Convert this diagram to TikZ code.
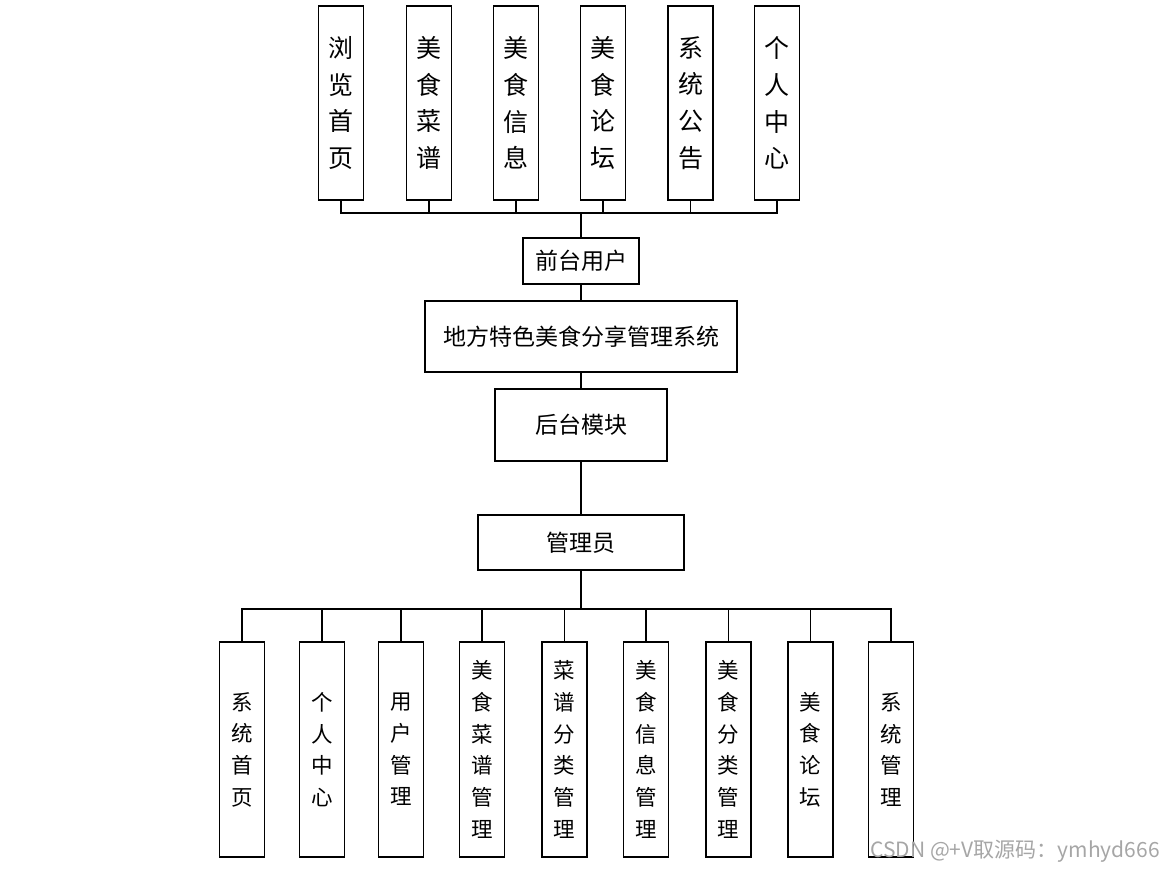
\documentclass[tikz,border=0pt]{standalone}
\usepackage{fontspec}
\setmainfont{Noto Sans CJK SC}
\usetikzlibrary{positioning,calc}
\tikzset{
  base/.style={font=\fontsize{23}{27}\selectfont, align=center, inner sep=0pt, text=black},
  box/.style={base, rectangle, draw=black, fill=white, line width=1.6pt},
  hbox/.style={box, minimum height=46pt},
  topbox/.style={box, font=\fontsize{25}{36.7}\selectfont, text width=30pt, minimum width=45pt, minimum height=194pt},
  botbox/.style={box, font=\fontsize{21.5}{31.7}\selectfont, text width=28pt, minimum width=45pt, minimum height=215pt},
  link/.style={line width=1.6pt, draw=black},
  wmark/.style={font=\fontsize{21}{24}\selectfont, text=black!35, inner sep=0pt},
}
\begin{document}
\begin{tikzpicture}[x=1pt,y=-1pt]
  \useasboundingbox (0,0) rectangle (1173,871);
  % centre column
  \node[hbox,minimum width=116pt] (front) at (581,261) {前台用户};
  \node[hbox,minimum width=312pt,minimum height=71pt] (sys) at (581,336.5) {地方特色美食分享管理系统};
  \node[hbox,minimum width=172pt,minimum height=72pt] (back) at (581,425) {后台模块};
  \node[hbox,minimum width=206pt,minimum height=55pt] (admin) at (581,542.5) {管理员};
  \draw[link] (front) -- (sys);
  \draw[link] (sys) -- (back);
  \draw[link] (back) -- (admin);
  % front-end modules
  \coordinate (ubus) at (581,213);
  \draw[link] (ubus) -- (front);
  \foreach \i/\x/\t in {1/341/{浏\\览\\首\\页},2/429/{美\\食\\菜\\谱},3/516/{美\\食\\信\\息},
                        4/603/{美\\食\\论\\坛},5/690.5/{系\\统\\公\\告},6/777/{个\\人\\中\\心}}{
    \node[topbox] (u\i) at (\x,103) {\t};
    \draw[link] (u\i.south) |- (ubus);
  }
  % back-end modules
  \coordinate (dbus) at (581,609);
  \draw[link] (admin) -- (dbus);
  \foreach \i/\x/\t in {1/242/{系\\统\\首\\页},2/322/{个\\人\\中\\心},3/401/{用\\户\\管\\理},
                        4/482/{美\\食\\菜\\谱\\管\\理},5/564.5/{菜\\谱\\分\\类\\管\\理},6/646/{美\\食\\信\\息\\管\\理},
                        7/728.5/{美\\食\\分\\类\\管\\理},8/810.5/{美\\食\\论\\坛},9/891/{系\\统\\管\\理}}{
    \node[botbox] (d\i) at (\x,749.5) {\t};
    \draw[link] (d\i.north) |- (dbus);
  }
  \node[wmark] (wm) at (1015,851) {CSDN @+V取源码：ymhyd666};
\end{tikzpicture}
\end{document}
